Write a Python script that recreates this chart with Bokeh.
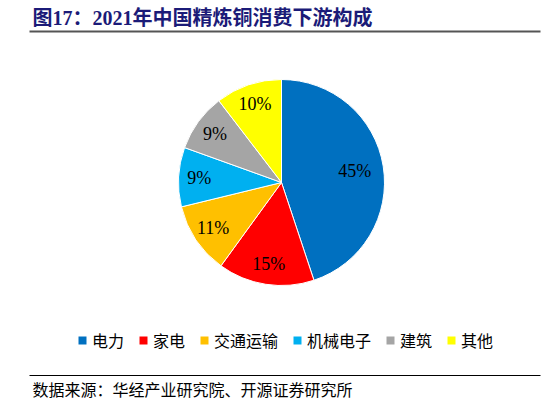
import math
from bokeh.plotting import figure
from bokeh.models import ColumnDataSource, Range1d, Legend, LegendItem
from bokeh.core.properties import value
from bokeh.embed import file_html
from bokeh.resources import INLINE

# ---- data ----
categories = ["电力", "家电", "交通运输", "机械电子", "建筑", "其他"]
shares = [44.9, 15.1, 11.2, 9.3, 9.1, 10.4]
colors = ["#0070C0", "#FF0000", "#FFC000", "#00B0F0", "#A5A5A5", "#FFFF00"]
title_text = "图17：2021年中国精炼铜消费下游构成"
source_text = "数据来源：华经产业研究院、开源证券研究所"

W, H = 546, 405
p = figure(width=W, height=H, output_backend="svg", toolbar_location=None,
           x_range=Range1d(0, W), y_range=Range1d(0, H), min_border=0,
           x_axis_type=None, y_axis_type=None)
p.grid.visible = False
p.outline_line_color = None
p.background_fill_color = "white"
p.border_fill_color = "white"

# pie geometry (pixel space)
cx, cy, R = 281, 223, 103
total = sum(shares)
starts, ends, lx, ly, labels = [], [], [], [], []
cum = 0.0
for v in shares:
    a0 = math.pi / 2 - 2 * math.pi * cum / total
    cum += v
    a1 = math.pi / 2 - 2 * math.pi * cum / total
    starts.append(a1)
    ends.append(a0)
    mid = (a0 + a1) / 2
    f = 0.72 if v / total > 0.3 else 0.8
    lx.append(cx + f * R * math.cos(mid))
    ly.append(cy + f * R * math.sin(mid))
    labels.append(f"{round(v)}%")

src = ColumnDataSource(dict(cat=categories, start=starts, end=ends, color=colors,
                            lx=lx, ly=ly, lab=labels,
                            nx=[float("nan")] * len(categories),
                            ny=[float("nan")] * len(categories)))
p.wedge(x=cx, y=cy, radius=R, start_angle="start", end_angle="end",
        fill_color="color", line_color="white", line_width=1, source=src)
p.text(x="lx", y="ly", text="lab", source=src, text_align="center",
       text_baseline="middle", text_font=value("Liberation Serif"),
       text_font_size="18px", text_color="black")

# square markers used only as legend swatches
sq = p.scatter(x="nx", y="ny", marker="square", size=8, fill_color="color",
               line_color=None, source=src)

# title + rules
p.text(x=[32], y=[388], text=[title_text], text_align="left", text_baseline="middle",
       text_font=value("'Liberation Serif', 'Noto Sans CJK SC'"), text_font_style="bold",
       text_font_size="20px", text_color="#1b1b78")
p.segment(x0=[29], y0=[374], x1=[540], y1=[374], line_color="#555555", line_width=2)
p.segment(x0=[29], y0=[30], x1=[540], y1=[30], line_color="black", line_width=1.2)
p.text(x=[32], y=[17], text=[source_text], text_align="left", text_baseline="middle",
       text_font=value("Noto Sans CJK SC"), text_font_size="16px", text_color="black")

legend = Legend(items=[LegendItem(label=c, renderers=[sq], index=i) for i, c in enumerate(categories)],
                orientation="horizontal", location=(72, 53), padding=0, margin=0,
                glyph_width=20, glyph_height=20, label_standoff=0, spacing=9,
                label_text_font="Noto Sans CJK SC", label_text_font_size="16px",
                label_text_color="black",
                border_line_color=None, background_fill_alpha=0)
p.add_layout(legend, "center")

open("out.html", "w").write(file_html(p, INLINE))
